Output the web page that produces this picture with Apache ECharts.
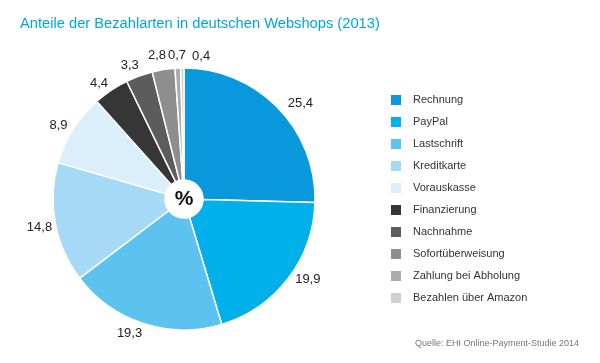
<!DOCTYPE html>
<html><head><meta charset="utf-8">
<script src="https://cdn.jsdelivr.net/npm/echarts@6/dist/echarts.min.js"></script>
<style>html,body{margin:0;padding:0;background:#fff}#c{width:600px;height:363px}</style>
</head><body><div id="c"></div>
<script>
const categories = ["Rechnung","PayPal","Lastschrift","Kreditkarte","Vorauskasse","Finanzierung","Nachnahme","Sofortüberweisung","Zahlung bei Abholung","Bezahlen über Amazon"];
const values = [25.4,19.9,19.3,14.8,8.9,4.4,3.3,2.8,0.7,0.4];
const colors = ["#0a98dd","#00b0eb","#5cc3f0","#a5d9f5","#dbeffb","#363636","#5c5c5c","#8e8e8e","#ababab","#cfcfcf"];
// label fine-tuning (pixel nudges away from radial placement)
const labelNudge = [[11,7],[7,-9],[-9,-5],[0,2],[-1,5],[-3,6],[-4,5],[-4,2],[0,3],[19,4]];
const FONT = "'Liberation Sans',Arial,sans-serif";
const CX = 184, CY = 199, R = 131, LR = 147;
const total = values.reduce((a,b)=>a+b,0);
const cum = []; values.reduce((a,v,i)=>{cum[i]=a+v/2; return a+v;},0);
const chart = echarts.init(document.getElementById('c'), null, {renderer:'canvas'});
chart.setOption({
  animation:false,
  color: colors,
  title:{text:"Anteile der Bezahlarten in deutschen Webshops (2013)", left:15, top:11,
    textStyle:{color:"#00a6df", fontSize:14.7, fontWeight:'normal', fontFamily:FONT}},
  legend:{orient:'vertical', left:389, top:93, padding:0, itemWidth:12, itemHeight:12, itemGap:8, icon:'rect',
    textStyle:{color:"#333", fontSize:11, lineHeight:12, fontFamily:FONT, padding:[0,0,0,6]},
    data:categories},
  graphic:[
    {type:'text', right:21, top:339, style:{text:"Quelle: EHI Online-Payment-Studie 2014", fill:"#777", font:"9px "+FONT}}
  ],
  series:[{
    type:'pie', center:[CX,CY], radius:[19,R], startAngle:90, clockwise:true,
    itemStyle:{borderColor:'#fff', borderWidth:1.5},
    label:{show:true, position:'outside', formatter:p=>String(p.value).replace('.',','), color:'#222', fontSize:13, fontFamily:FONT},
    labelLine:{show:false, length:8, length2:0},
    avoidLabelOverlap:false,
    labelLayout:function(p){
      const i = p.dataIndex;
      const a = cum[i]/total*2*Math.PI;
      return {x: CX + LR*Math.sin(a) + labelNudge[i][0], y: CY - LR*Math.cos(a) + labelNudge[i][1], align:'center', verticalAlign:'middle', hideOverlap:false};
    },
    data: categories.map((n,i)=>({name:n, value:values[i]}))
  },{
    type:'pie', center:[CX,CY], radius:[0,0], silent:true, label:{show:true, position:'center', formatter:'%', fontSize:21, fontWeight:'bold', color:'#111', fontFamily:FONT},
    labelLine:{show:false}, data:[{name:'c', value:1}], legendHoverLink:false
  }]
});
</script></body></html>
